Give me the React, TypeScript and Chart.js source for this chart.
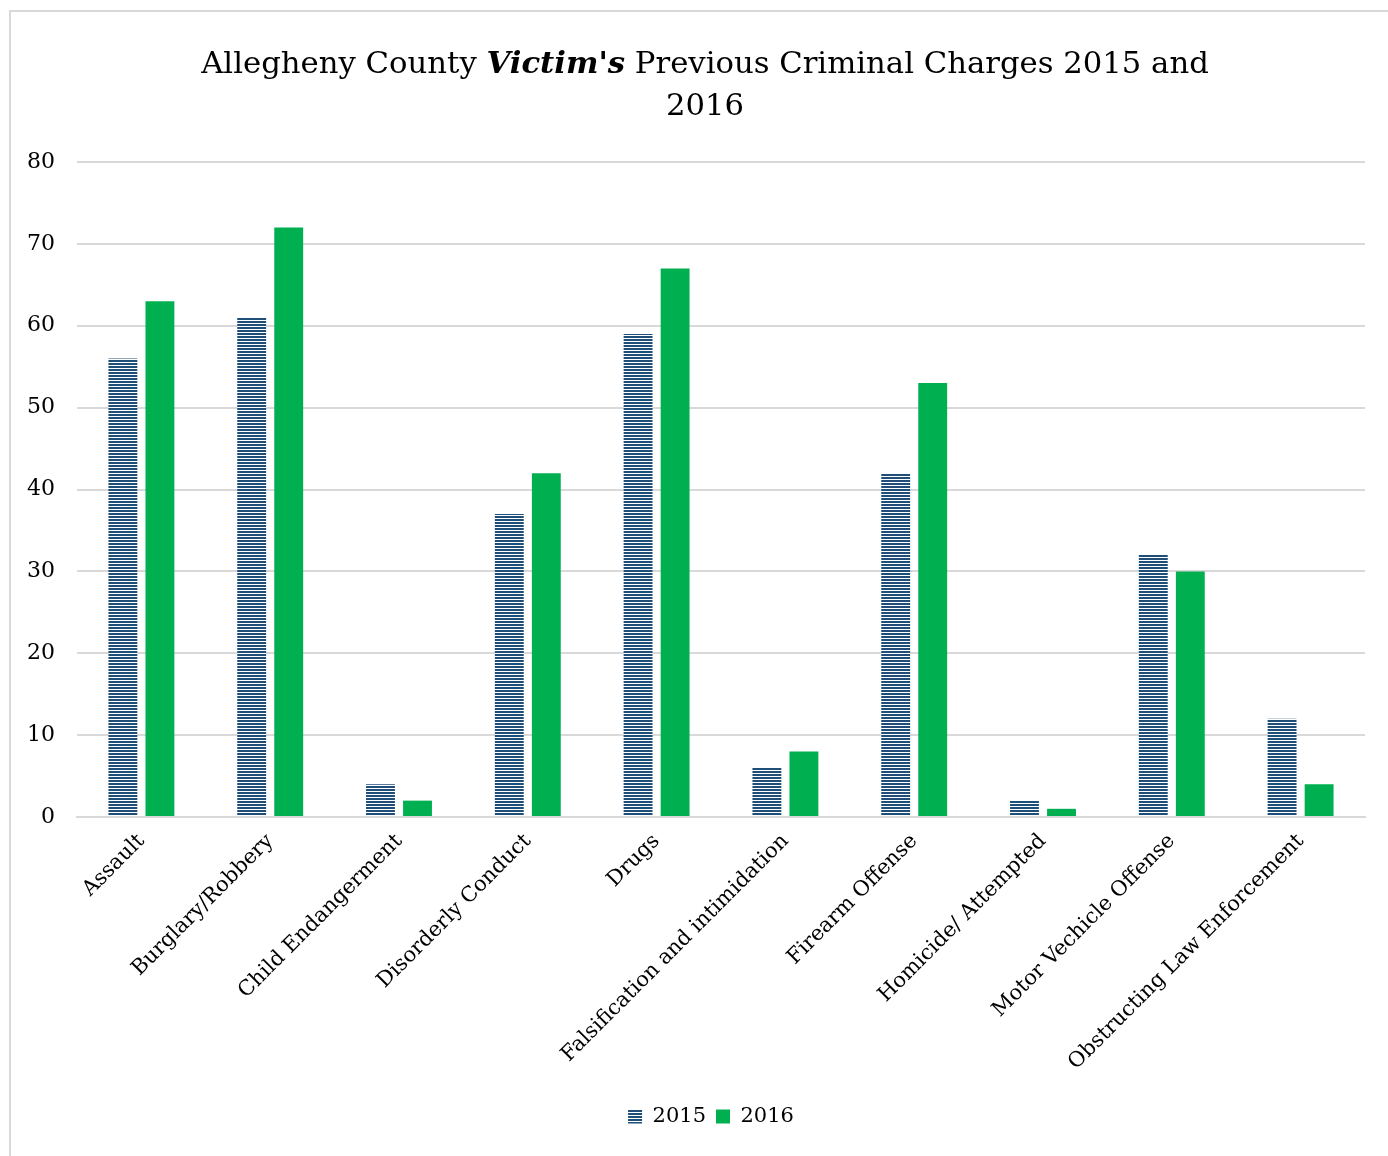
import React, { useEffect, useRef } from "react";
import { Chart, registerables } from "chart.js";

Chart.register(...registerables);

const categories = [
  "Assault",
  "Burglary/Robbery",
  "Child Endangerment",
  "Disorderly Conduct",
  "Drugs",
  "Falsification and intimidation",
  "Firearm Offense",
  "Homicide/ Attempted",
  "Motor Vechicle Offense",
  "Obstructing Law Enforcement",
];
const values2015 = [56, 61, 4, 37, 59, 6, 42, 2, 32, 12];
const values2016 = [63, 72, 2, 42, 67, 8, 53, 1, 30, 4];
const seriesLabels = ["2015", "2016"];

const FONT = "'DejaVu Serif', serif";

function makeStripes(): CanvasPattern | string {
  const c = document.createElement("canvas");
  c.width = 4;
  c.height = 3;
  const ctx = c.getContext("2d");
  if (!ctx) return "#1F4E79";
  ctx.fillStyle = "#ffffff";
  ctx.fillRect(0, 0, 4, 3);
  ctx.fillStyle = "#1F4E79";
  ctx.fillRect(0, 0, 4, 2);
  const p = ctx.createPattern(c, "repeat");
  return p || "#1F4E79";
}

const shiftLegend = {
  id: "shiftLegend",
  afterLayout(chart: any) {
    const lg = chart.legend;
    if (lg) {
      lg.left += 15;
      lg.right += 15;
    }
  },
};

export default function App() {
  const ref = useRef<HTMLCanvasElement | null>(null);

  useEffect(() => {
    if (!ref.current) return;
    const stripes = makeStripes();
    const chart = new Chart(ref.current, {
      type: "bar",
      data: {
        labels: categories,
        datasets: [
          {
            label: seriesLabels[0],
            data: values2015,
            backgroundColor: stripes as any,
            borderWidth: 0,
            categoryPercentage: 0.575,
            barPercentage: 0.78,
          },
          {
            label: seriesLabels[1],
            data: values2016,
            backgroundColor: "#00B050",
            borderWidth: 0,
            categoryPercentage: 0.575,
            barPercentage: 0.78,
          },
        ],
      },
      plugins: [shiftLegend],
      options: {
        responsive: false,
        animation: false,
        devicePixelRatio: 1,
        layout: { padding: { left: 27, top: 162, right: 23, bottom: 19 } },
        plugins: {
          title: { display: false },
          tooltip: { enabled: false },
          legend: {
            display: true,
            position: "bottom",
            labels: {
              boxWidth: 14,
              boxHeight: 14,
              padding: 10,
              color: "#000",
              font: { family: FONT, size: 21 },
            },
          },
        },
        scales: {
          x: {
            grid: { display: false, drawTicks: false },
            border: { display: true, color: "#d9d9d9", width: 2 },
            ticks: {
              color: "#000",
              font: { family: FONT, size: 21 },
              minRotation: 45,
              maxRotation: 45,
              autoSkip: false,
              padding: 12,
            },
            afterFit: (s: any) => {
              s.height = 279;
            },
          },
          y: {
            min: 0,
            max: 80,
            grid: { color: "#d9d9d9", lineWidth: 2, drawTicks: false },
            border: { display: false },
            ticks: {
              stepSize: 10,
              color: "#000",
              font: { family: FONT, size: 22 },
              padding: 22,
            },
            afterFit: (s: any) => {
              s.width = 50;
            },
          },
        },
      },
    });
    return () => chart.destroy();
  }, []);

  return (
    <div style={{ position: "fixed", left: 0, top: 0, width: 1388, height: 1156, background: "#fff" }}>
      <div
        style={{
          position: "absolute",
          left: 9,
          top: 10,
          width: 1500,
          height: 1300,
          borderLeft: "2px solid #d9d9d9",
          borderTop: "2px solid #d9d9d9",
        }}
      />
      <canvas
        ref={ref}
        width={1388}
        height={1156}
        style={{ position: "absolute", left: 0, top: 0, width: 1388, height: 1156 }}
      />
      <div
        style={{
          position: "absolute",
          left: 155,
          top: 41,
          width: 1100,
          textAlign: "center",
          fontFamily: FONT,
          fontSize: 30.7,
          lineHeight: "42px",
          color: "#000",
        }}
      >
        Allegheny County <b><i>Victim's</i></b> Previous Criminal Charges 2015 and
        <br />
        2016
      </div>
    </div>
  );
}
